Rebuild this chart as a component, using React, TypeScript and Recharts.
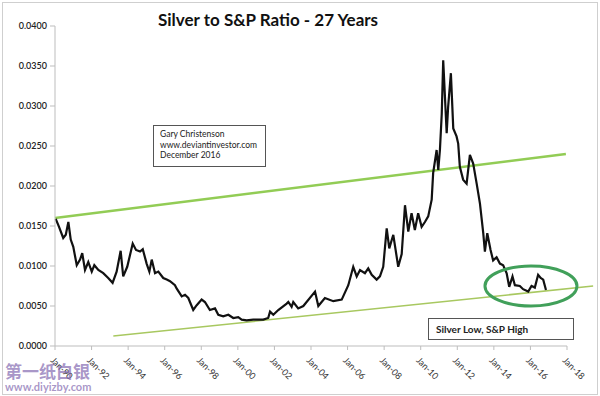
import React from 'react';
import { LineChart, Line, XAxis, YAxis, ReferenceLine, ReferenceDot } from 'recharts';

// decimal year of each reading
const years = [
    1990.04, 1990.22, 1990.45, 1990.59, 1990.73, 1990.86, 1991.0, 1991.19, 1991.37, 1991.49,
    1991.64, 1991.82, 1992.01, 1992.15, 1992.37, 1992.64, 1992.91, 1993.15, 1993.37, 1993.59,
    1993.73, 1993.95, 1994.25, 1994.43, 1994.65, 1994.8, 1995.01, 1995.16, 1995.29, 1995.47,
    1995.65, 1995.92, 1996.11, 1996.29, 1996.56, 1996.65, 1996.93, 1997.11, 1997.29, 1997.56,
    1997.75, 1998.02, 1998.2, 1998.47, 1998.75, 1998.93, 1999.2, 1999.48, 1999.75, 2000.02,
    2000.21, 2000.48, 2000.84, 2001.12, 2001.39, 2001.66, 2001.76, 2001.94, 2002.21, 2002.67,
    2002.76, 2002.94, 2003.03, 2003.3, 2003.58, 2004.22, 2004.4, 2004.76, 2005.22, 2005.68,
    2006.04, 2006.31, 2006.5, 2006.68, 2006.95, 2007.13, 2007.32, 2007.59, 2007.77, 2007.95,
    2008.14, 2008.28, 2008.5, 2008.77, 2008.96, 2009.14, 2009.32, 2009.5, 2009.68, 2009.86,
    2010.05, 2010.23, 2010.41, 2010.6, 2010.68, 2010.87, 2010.96, 2011.05, 2011.15, 2011.23,
    2011.42, 2011.5, 2011.65, 2011.78, 2011.96, 2012.05, 2012.14, 2012.32, 2012.51, 2012.69,
    2012.87, 2013.06, 2013.24, 2013.42, 2013.51, 2013.64, 2013.82, 2013.96, 2014.15, 2014.33,
    2014.51, 2014.7, 2014.84, 2015.02, 2015.15, 2015.42, 2015.6, 2015.88, 2016.06, 2016.24,
    2016.42, 2016.56, 2016.7, 2016.85,
];

// silver price / S&P 500
const ratio = [
    0.0159, 0.0149, 0.0135, 0.0139, 0.0155, 0.0133, 0.0124, 0.0101, 0.0108, 0.0116,
    0.0095, 0.0105, 0.0093, 0.0101, 0.0095, 0.0091, 0.0085, 0.0079, 0.0093, 0.0119,
    0.0087, 0.0099, 0.0128, 0.012, 0.0118, 0.0121, 0.0103, 0.0093, 0.0108, 0.0091,
    0.0093, 0.0085, 0.0083, 0.0081, 0.0076, 0.0072, 0.0062, 0.0064, 0.006, 0.0045,
    0.0051, 0.0058, 0.0055, 0.0045, 0.0047, 0.0039, 0.0037, 0.0039, 0.0035, 0.0036,
    0.0033, 0.0032, 0.0033, 0.0033, 0.0033, 0.0035, 0.0043, 0.0039, 0.0045, 0.0053,
    0.0055, 0.0049, 0.0055, 0.0047, 0.005, 0.0068, 0.005, 0.006, 0.0056, 0.0058,
    0.0076, 0.0099, 0.0087, 0.0095, 0.0091, 0.0097, 0.0089, 0.0083, 0.0087, 0.0099,
    0.0147, 0.0122, 0.0139, 0.0099, 0.0115, 0.0176, 0.0143, 0.0166, 0.0145, 0.0166,
    0.0149, 0.0155, 0.0162, 0.0183, 0.0216, 0.0245, 0.022, 0.0245, 0.029, 0.0357,
    0.0266, 0.0299, 0.0341, 0.0272, 0.0262, 0.0253, 0.0224, 0.0208, 0.0203, 0.0239,
    0.0228, 0.0203, 0.0178, 0.0141, 0.0118, 0.0141, 0.012, 0.0107, 0.0111, 0.0103,
    0.0101, 0.0091, 0.0074, 0.0087, 0.0076, 0.0075, 0.0071, 0.0068, 0.0075, 0.0073,
    0.0089, 0.0085, 0.0083, 0.007,
];

const xTicks = [1990, 1992, 1994, 1996, 1998, 2000, 2002, 2004, 2006, 2008, 2010, 2012, 2014, 2016, 2018];
const yTicks = [0, 0.005, 0.01, 0.015, 0.02, 0.025, 0.03, 0.035, 0.04];

// hand drawn trend channel (start / end)
const upperTrend = [
    { x: 1990, y: 0.016 },
    { x: 2017.94, y: 0.024 },
];
const lowerTrend = [
    { x: 1993.19, y: 0.00125 },
    { x: 2019.43, y: 0.0075 },
];
const circleCenter = { x: 2016.03, y: 0.0075 };

const data = years.map((year, i) => ({ year, ratio: ratio[i] }));

const XTick = (props: any) => {
    const { x, y, payload } = props;
    const label = 'Jan-' + String(payload.value).slice(2);
    const tx = x - 5;
    const ty = y + 9;
    return (
        <text x={tx} y={ty} transform={`rotate(45, ${tx}, ${ty})`} fontSize={9} fill="#333" stroke="none" textAnchor="start">
            {label}
        </text>
    );
};

export default function App() {
    return (
        <div style={{ position: 'absolute', left: 0, top: 0, width: 600, height: 396, fontFamily: 'Lato', background: '#fff' }}>
            <div style={{ position: 'absolute', left: 2, top: 2, width: 594, height: 391, border: '1px solid #cfcfcf' }} />
            <LineChart width={600} height={396} data={data} margin={{ top: 26, right: 33, bottom: 0, left: 0 }}>
                <XAxis
                    dataKey="year"
                    type="number"
                    domain={[1990, 2018]}
                    ticks={xTicks}
                    height={50}
                    tick={<XTick />}
                    tickSize={4}
                    stroke="#bdbdbd"
                    interval={0}
                />
                <YAxis
                    type="number"
                    domain={[0, 0.04]}
                    ticks={yTicks}
                    width={55}
                    tickSize={5}
                    tickMargin={3}
                    stroke="#bdbdbd"
                    tick={{ fontSize: 9, fill: '#222', fontWeight: 600 }}
                    tickFormatter={(v: number) => v.toFixed(4)}
                    interval={0}
                />
                <ReferenceLine segment={upperTrend} stroke="#92cc55" strokeWidth={2.5} ifOverflow="visible" />
                <ReferenceLine segment={lowerTrend} stroke="#a8c860" strokeWidth={1.5} ifOverflow="visible" />
                <Line
                    dataKey="ratio"
                    type="linear"
                    stroke="#111"
                    strokeWidth={2.2}
                    dot={false}
                    isAnimationActive={false}
                />
                <ReferenceDot
                    x={circleCenter.x}
                    y={circleCenter.y}
                    ifOverflow="visible"
                    shape={(p: any) => (
                        <ellipse cx={p.cx} cy={p.cy} rx={46} ry={20} fill="none" stroke="#41a05a" strokeWidth={3} />
                    )}
                />
                <text x={158} y={26} fontSize={17} fontWeight={700} fill="#111">
                    Silver to S&amp;P Ratio - 27 Years
                </text>
            </LineChart>
            <div
                style={{
                    position: 'absolute', left: 153, top: 125, width: 113, height: 42, boxSizing: 'border-box',
                    border: '1px solid #555', background: '#fff', fontSize: 8.5, lineHeight: '10.5px',
                    padding: '3px 0 0 6px', color: '#222',
                }}
            >
                Gary Christenson<br />www.deviantinvestor.com<br />December 2016
            </div>
            <div
                style={{
                    position: 'absolute', left: 428, top: 318, width: 146, height: 22, boxSizing: 'border-box',
                    border: '1px solid #555', background: '#fff', fontSize: 10, fontWeight: 700,
                    padding: '4px 0 0 7px', color: '#222',
                }}
            >
                Silver Low, S&amp;P High
            </div>
            <div style={{ position: 'absolute', left: 5, top: 360, color: 'rgba(130,105,175,0.7)', fontWeight: 700 }}>
                <div style={{ fontSize: 17, fontFamily: 'Noto Sans CJK SC', lineHeight: '21px' }}>第一纸白银</div>
                <div style={{ fontSize: 11, lineHeight: '12px' }}>www.diyizby.com</div>
            </div>
        </div>
    );
}
